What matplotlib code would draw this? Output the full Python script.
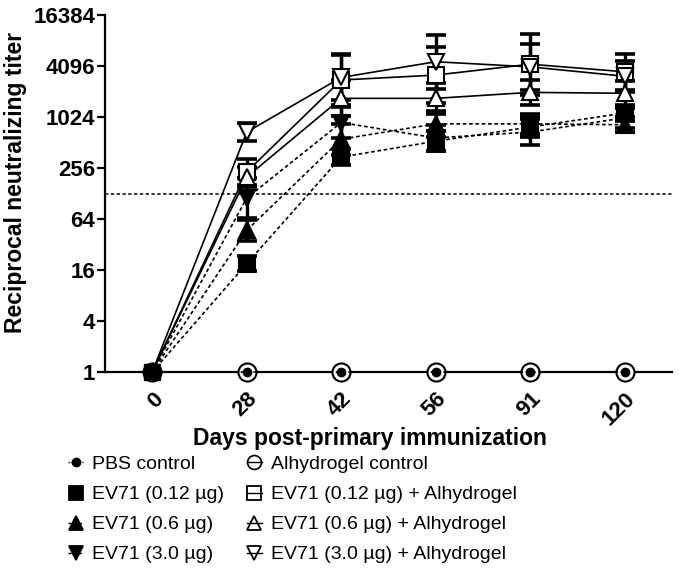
import matplotlib.pyplot as plt
import numpy as np
from matplotlib.lines import Line2D
from matplotlib.ticker import FixedLocator, FixedFormatter, NullLocator

plt.rcParams['font.family'] = ['Liberation Sans', 'DejaVu Sans']

days = ['0', '28', '42', '56', '91', '120']
yticks = [1, 4, 16, 64, 256, 1024, 4096, 16384]
cutoff = 128

# geometric mean titers
pbs = [1, 1, 1, 1, 1, 1]
alhy_ctrl = [1, 1, 1, 1, 1, 1]
ev_012 = [1, 19, 345, 530, 780, 1140]
ev_06 = [1, 47, 560, 850, 850, 830]
ev_30 = [1, 113, 880, 580, 680, 1000]
ev_012_a = [1, 230, 2800, 3200, 4300, 3500]
ev_06_a = [1, 200, 1700, 1700, 2000, 1950]
ev_30_a = [1, 680, 3000, 4600, 4000, 3100]

# error bar half-widths (log2 units)
sd_012 = [0, 0.3, 0.3, 0.4, 0.4, 0.3]
sd_06 = [0, 0.4, 0.6, 0.5, 0.4, 0.3]
sd_30 = [0, 0.8, 0.6, 0.5, 0.5, 0.4]
sd_012_a = [0, 0.5, 1.0, 1.1, 1.2, 0.7]
sd_06_a = [0, 0.4, 0.7, 0.6, 0.5, 0.5]
sd_30_a = [0, 0.35, 0.9, 1.05, 0.9, 0.6]

x = np.arange(len(days))
dash = (0, (2.2, 1.6))

fig = plt.figure(figsize=(6.79, 5.79), dpi=100)
ax = fig.add_axes([0.1546, 0.3575, 0.835, 0.6166])

ax.axhline(cutoff, color='black', lw=1.1, ls=dash, zorder=1)

series = [
    (ev_012, sd_012, 's', 'black', dash, 'EV71 (0.12 µg)'),
    (ev_06, sd_06, '^', 'black', dash, 'EV71 (0.6 µg)'),
    (ev_30, sd_30, 'v', 'black', dash, 'EV71 (3.0 µg)'),
    (ev_012_a, sd_012_a, 's', 'white', '-', 'EV71 (0.12 µg) + Alhydrogel'),
    (ev_06_a, sd_06_a, '^', 'white', '-', 'EV71 (0.6 µg) + Alhydrogel'),
    (ev_30_a, sd_30_a, 'v', 'white', '-', 'EV71 (3.0 µg) + Alhydrogel'),
]

handles = {}
for vals, sd, mk, fc, ls, lab in series:
    v = np.array(vals, dtype=float)
    s = np.array(sd)
    lo = v - v / 2**s
    hi = v * 2**s - v
    ax.errorbar(x[1:], v[1:], yerr=[lo[1:], hi[1:]], fmt='none', ecolor='black',
                elinewidth=2.4, capsize=7, capthick=2.6, zorder=2)
    ax.plot(x, v, color='black', lw=1.2, ls=ls, zorder=3)
    ax.plot(x[1:], v[1:], ls='none', marker=mk, ms=11, mfc=fc, mec='black',
            mew=1.5, zorder=4)
    # open symbols in the key show the line running through them
    hfc = 'none' if fc == 'white' else fc
    handles[lab] = Line2D([], [], color='black', lw=1.0, ls=ls, marker=mk, ms=10,
                          mfc=hfc, mec='black', mew=1.3)

# controls sit on the baseline
ax.plot(x, alhy_ctrl, color='black', lw=1.2, marker='o', ms=13, mfc='white',
        mec='black', mew=1.5, clip_on=False, zorder=5)
ax.plot(x, pbs, color='black', lw=1.2, ls=dash, marker='o', ms=6, mfc='black',
        mec='black', clip_on=False, zorder=6)
# day 0 shows the filled square on top
ax.plot(x[:1], ev_012[:1], ls='none', marker='s', ms=11, mfc='black', mec='black',
        clip_on=False, zorder=7)

ax.set_yscale('log', base=2)
ax.set_ylim(1, 16384)
ax.set_xlim(-0.5, 5.5)
ax.yaxis.set_major_locator(FixedLocator(yticks))
ax.yaxis.set_major_formatter(FixedFormatter([str(t) for t in yticks]))
ax.yaxis.set_minor_locator(NullLocator())
ax.set_xticks(x)
ax.set_xticklabels(days, rotation=45, ha='right', rotation_mode='anchor')

for side in ['top', 'right']:
    ax.spines[side].set_visible(False)
for side in ['left', 'bottom']:
    ax.spines[side].set_linewidth(1.6)
ax.tick_params(axis='y', length=6, width=1.6, labelsize=16, pad=1)
ax.tick_params(axis='x', length=0, labelsize=16, pad=12)
for t in ax.get_xticklabels() + ax.get_yticklabels():
    t.set_fontweight('bold')

ax.set_ylabel('Reciprocal neutralizing titer', fontsize=16.5, fontweight='bold')
ax.set_xlabel('Days post-primary immunization', fontsize=16.5, fontweight='bold')
ax.xaxis.set_label_coords(0.467, -0.155)
ax.yaxis.set_label_coords(-0.137, 0.532)

pbs_h = Line2D([], [], color='black', lw=1.0, ls=(0, (1, 1)), marker='o', ms=6,
               mfc='black', mec='black')
alhy_h = Line2D([], [], color='black', lw=1.0, marker='o', ms=10, mfc='none',
                mec='black', mew=1.2)
leg_handles = [pbs_h, handles['EV71 (0.12 µg)'], handles['EV71 (0.6 µg)'],
               handles['EV71 (3.0 µg)'], alhy_h,
               handles['EV71 (0.12 µg) + Alhydrogel'],
               handles['EV71 (0.6 µg) + Alhydrogel'],
               handles['EV71 (3.0 µg) + Alhydrogel']]
leg_labels = ['PBS control', 'EV71 (0.12 µg)', 'EV71 (0.6 µg)', 'EV71 (3.0 µg)',
              'Alhydrogel control', 'EV71 (0.12 µg) + Alhydrogel',
              'EV71 (0.6 µg) + Alhydrogel', 'EV71 (3.0 µg) + Alhydrogel']
fig.legend(leg_handles, leg_labels, ncol=2, loc='upper left',
           bbox_to_anchor=(0.1, 0.213), frameon=False, fontsize=14,
           handlelength=0.8, handletextpad=0.45, columnspacing=1.15,
           labelspacing=0.64, borderaxespad=0, borderpad=0)

fig.savefig('out.png', dpi=100)
